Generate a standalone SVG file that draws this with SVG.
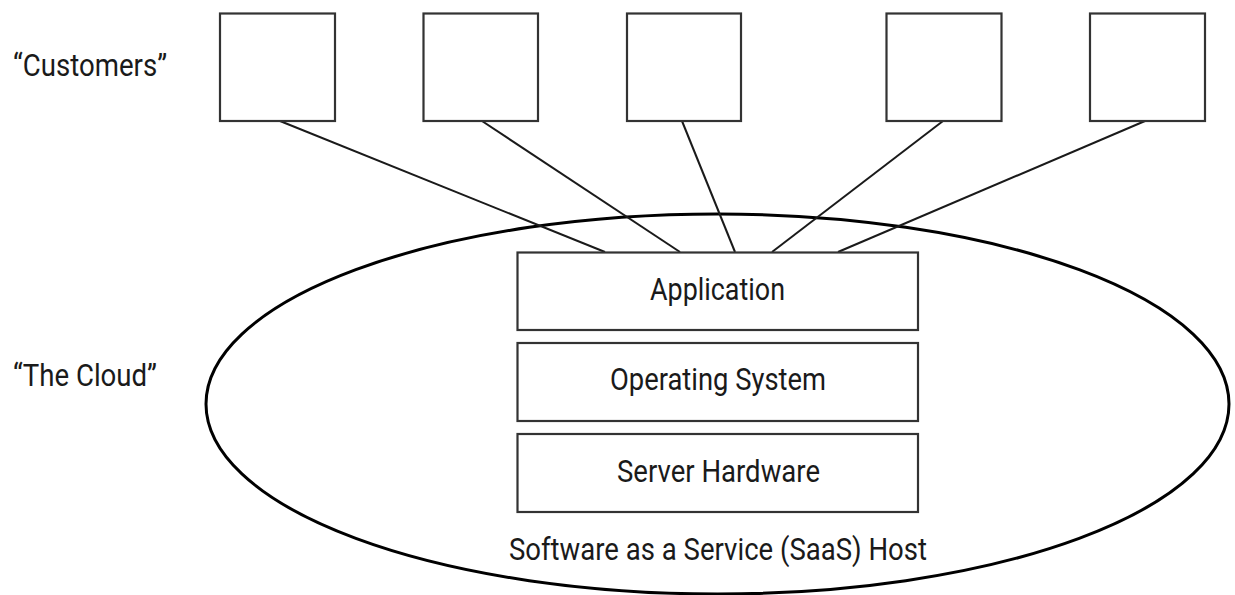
<svg xmlns="http://www.w3.org/2000/svg" width="1235" height="595" viewBox="0 0 1235 595">
<style>
.box{fill:#fff;stroke:#333;stroke-width:2.2}
.conn{stroke:#1a1a1a;stroke-width:2;fill:none}
.cloud{fill:none;stroke:#000;stroke-width:3}
text{font-family:Roboto,"Liberation Sans",sans-serif;font-size:31px;fill:#1a1a1a}
</style>
<rect width="1235" height="595" fill="#fff"/>
<g id="labels">
<text x="13" y="76" textLength="154" lengthAdjust="spacingAndGlyphs">“Customers”</text>
<text x="13" y="386" textLength="144" lengthAdjust="spacingAndGlyphs">“The Cloud”</text>
</g>
<g id="cloud">
<ellipse class="cloud" cx="717.5" cy="404" rx="511.5" ry="190"/>
<text x="509" y="560" textLength="418" lengthAdjust="spacingAndGlyphs">Software as a Service (SaaS) Host</text>
</g>
<g id="connectors">
<line class="conn" x1="280" y1="121" x2="605" y2="252"/>
<line class="conn" x1="482" y1="121" x2="680" y2="252"/>
<line class="conn" x1="682" y1="121" x2="735" y2="252"/>
<line class="conn" x1="943" y1="121" x2="772" y2="252"/>
<line class="conn" x1="1145" y1="121" x2="838" y2="252"/>
</g>
<g id="customer1"><rect class="box" x="220" y="13.5" width="115" height="107.5"/></g>
<g id="customer2"><rect class="box" x="423.5" y="13.5" width="114.5" height="107.5"/></g>
<g id="customer3"><rect class="box" x="627" y="13.5" width="114" height="107.5"/></g>
<g id="customer4"><rect class="box" x="886.5" y="13.5" width="115" height="107.5"/></g>
<g id="customer5"><rect class="box" x="1090" y="13.5" width="115" height="107.5"/></g>
<g id="application">
<rect class="box" x="517.5" y="252.5" width="400.5" height="77.5"/>
<text x="650" y="300" textLength="135" lengthAdjust="spacingAndGlyphs">Application</text>
</g>
<g id="os">
<rect class="box" x="517.5" y="343" width="400.5" height="78"/>
<text x="610" y="390" textLength="216" lengthAdjust="spacingAndGlyphs">Operating System</text>
</g>
<g id="hardware">
<rect class="box" x="517.5" y="434" width="400.5" height="78"/>
<text x="617" y="482" textLength="203" lengthAdjust="spacingAndGlyphs">Server Hardware</text>
</g>
</svg>
